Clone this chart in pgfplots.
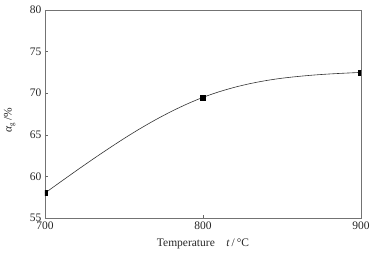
\documentclass[border=0pt]{standalone}
\usepackage{pgfplots}
\pgfplotsset{compat=1.18}
\usepackage{fontspec}
\setmainfont{Liberation Serif}
\begin{document}
\begin{tikzpicture}
\path[use as bounding box] (-45pt,-38pt) rectangle (329pt,218pt);
\begin{axis}[
  scale only axis,
  width=316pt, height=208pt,
  xmin=700, xmax=900, ymin=55, ymax=80,
  xtick={700,800,900}, ytick={55,60,65,70,75,80},
  tick align=inside,
  major tick length=3pt,
  xtick pos=bottom, ytick pos=left,
  axis line style={black!55, line width=0.6pt},
  tick style={black!60, line width=0.5pt},
  /pgf/number format/assume math mode=true,
  tick label style={font=\fontsize{11.5}{13}\selectfont, text=black!85},
  label style={font=\fontsize{11.5}{13}\selectfont, text=black!85},
  xlabel={Temperature\quad\textit{t}\,/\,°C},
  ylabel={\textit{α}\raisebox{-0.45ex}{\scriptsize g}\ /\%},
  xlabel style={at={(axis description cs:0.5,0)}, anchor=north, yshift=-17pt},
  ylabel style={at={(axis description cs:0,0.47)}, anchor=south, yshift=26pt},
  clip=true,
  clip marker paths=true,
]
\addplot[black!80, line width=0.6pt, smooth, no marks] coordinates {
(700,58.00) (710,59.36) (720,60.71) (730,62.03) (740,63.31) (750,64.55)
(760,65.72) (770,66.81) (780,67.81) (790,68.71) (800,69.50)
(810,70.16) (820,70.71) (830,71.16) (840,71.52) (850,71.80)
(860,72.01) (870,72.18) (880,72.31) (890,72.41) (900,72.50)
};
\addplot[only marks, mark=square*, mark size=2.4pt, black] coordinates {
(700,58.0) (800,69.5) (900,72.5)
};
\end{axis}
\end{tikzpicture}
\end{document}
